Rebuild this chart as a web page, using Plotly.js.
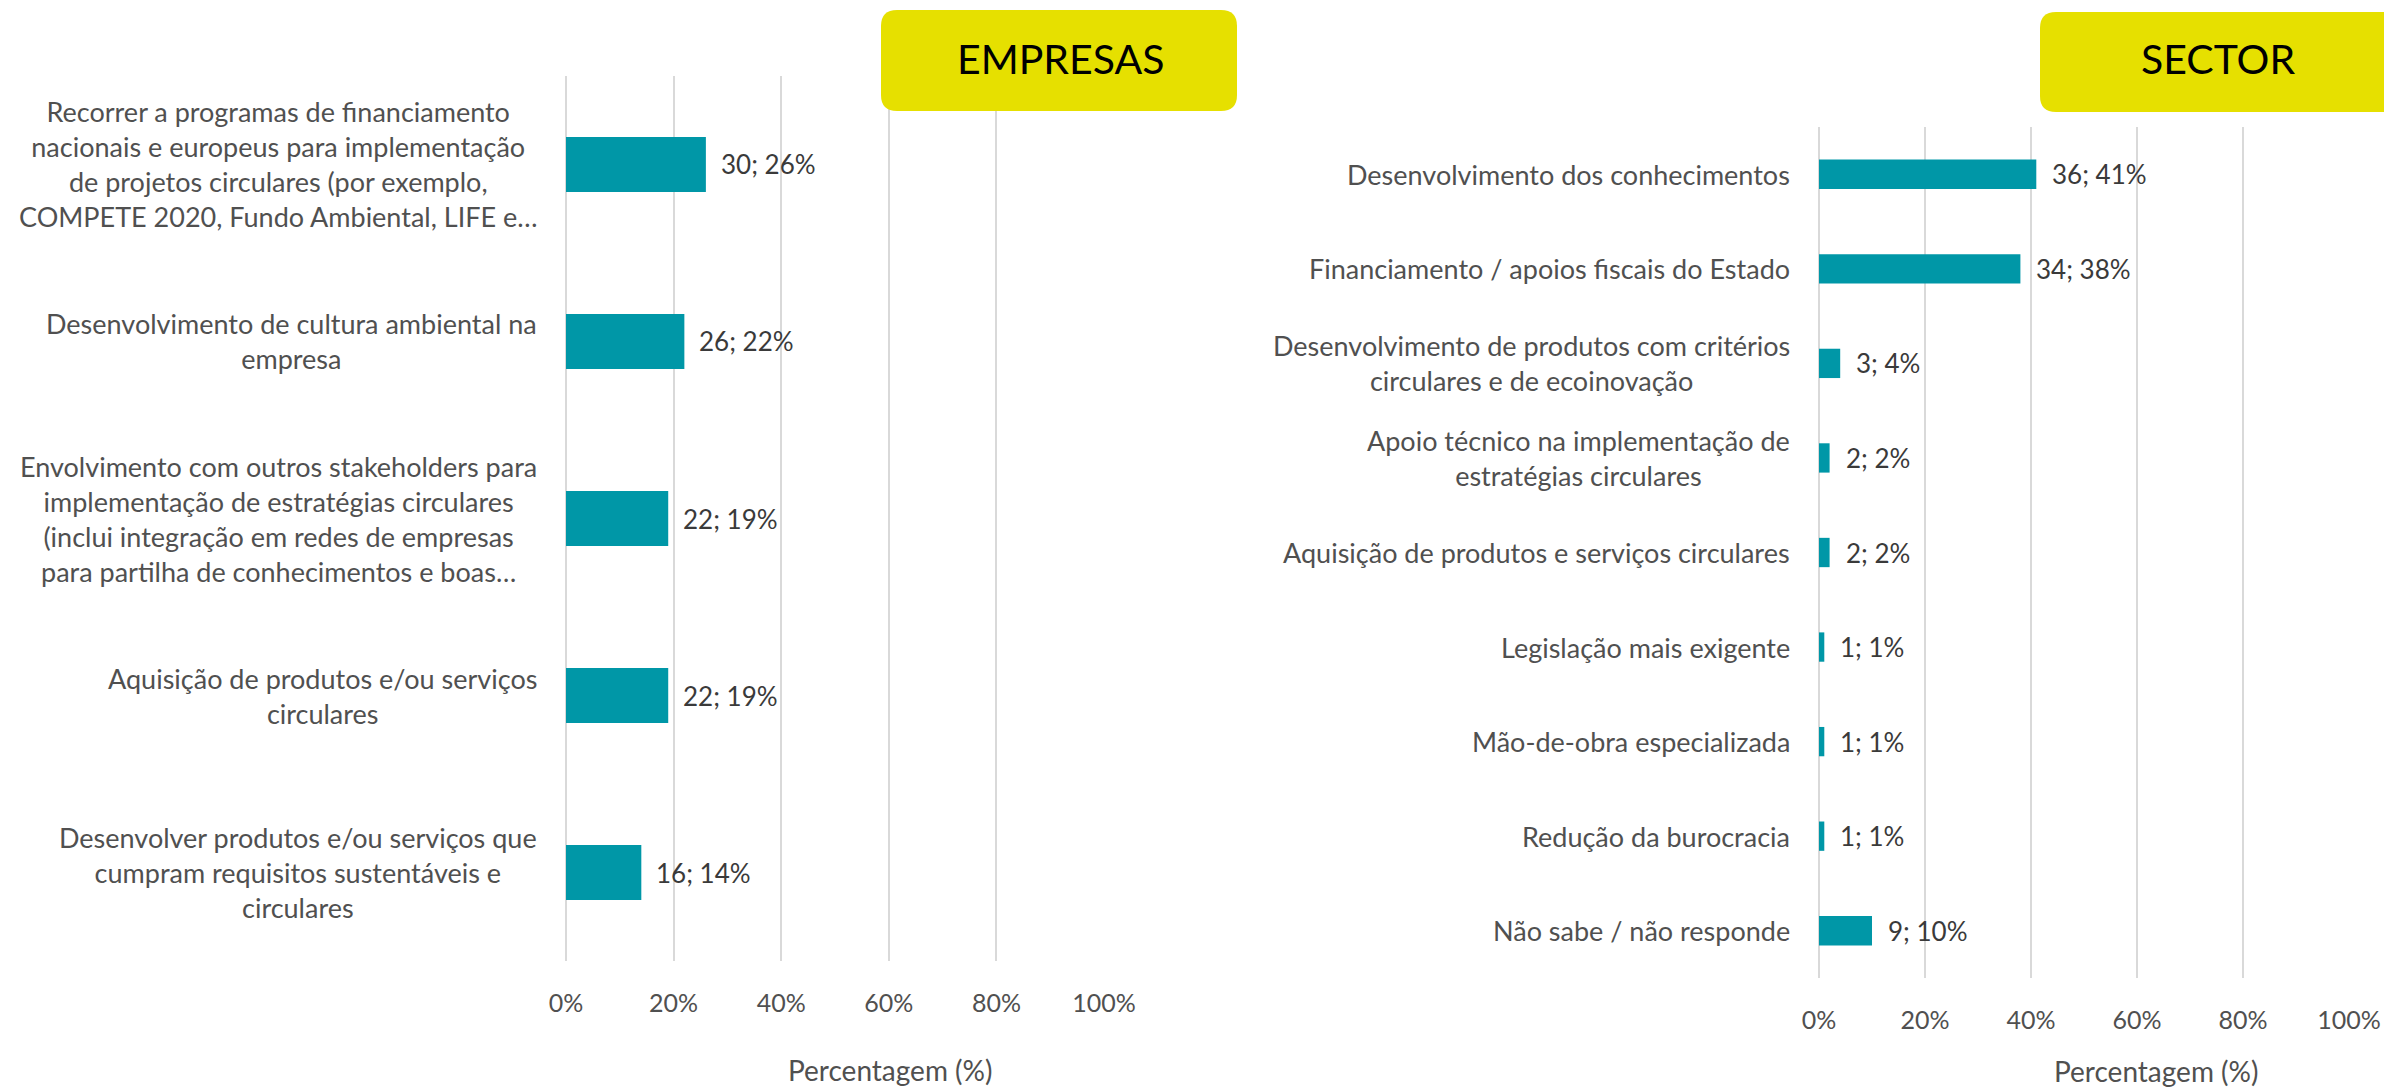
<!DOCTYPE html>
<html>
<head>
<meta charset="utf-8">
<script src="https://cdn.plot.ly/plotly-3.0.1.min.js"></script>
<style>html,body{margin:0;padding:0;background:#fff;}#chart{width:2384px;height:1089px;}</style>
</head>
<body>
<div id="chart"></div>
<script>
// ---- Data ----
const empresasCategories = [
  "Recorrer a programas de financiamento<br>nacionais e europeus para implementação<br>de projetos circulares (por exemplo,<br>COMPETE 2020, Fundo Ambiental, LIFE e…",
  "Desenvolvimento de cultura ambiental na<br>empresa",
  "Envolvimento com outros stakeholders para<br>implementação de estratégias circulares<br>(inclui integração em redes de empresas<br>para partilha de conhecimentos e boas…",
  "Aquisição de produtos e/ou serviços<br>circulares",
  "Desenvolver produtos e/ou serviços que<br>cumpram requisitos sustentáveis e<br>circulares"
];
const empresasCounts = [30, 26, 22, 22, 16];
const empresasPct = [26, 22, 19, 19, 14];

const sectorCategories = [
  "Desenvolvimento dos conhecimentos",
  "Financiamento / apoios fiscais do Estado",
  "Desenvolvimento de produtos com critérios<br>circulares e de ecoinovação",
  "Apoio técnico na implementação de<br>estratégias circulares",
  "Aquisição de produtos e serviços circulares",
  "Legislação mais exigente",
  "Mão-de-obra especializada",
  "Redução da burocracia",
  "Não sabe / não responde"
];
const sectorCounts = [36, 34, 3, 2, 2, 1, 1, 1, 9];
const sectorPct = [41, 38, 4, 2, 2, 1, 1, 1, 10];

const tickValues = [0, 20, 40, 60, 80, 100];
const tickLabels = ["0%", "20%", "40%", "60%", "80%", "100%"];
const panelTitles = ["EMPRESAS", "SECTOR"];
const axisTitle = "Percentagem (%)";

// ---- Style ----
const W = 2384, H = 1089;
const FONT = "Lato, 'Open Sans', sans-serif";
const BAR = "#0097A7";
const GRID = "#D9D9D9";
const TXT = "#505050";
const LBL = "#3a3a3a";
const px = x => x / W;
const py = y => 1 - y / H;

function roundRectPath(x0, y0, x1, y1, r) {
  const P = (x, y) => px(x) + "," + py(y);
  return "M" + P(x0 + r, y0) + " L" + P(x1 - r, y0) + " Q" + P(x1, y0) + " " + P(x1, y0 + r) +
    " L" + P(x1, y1 - r) + " Q" + P(x1, y1) + " " + P(x1 - r, y1) +
    " L" + P(x0 + r, y1) + " Q" + P(x0, y1) + " " + P(x0, y1 - r) +
    " L" + P(x0, y0 + r) + " Q" + P(x0, y0) + " " + P(x0 + r, y0) + " Z";
}

const traces = [
  {type: "bar", orientation: "h", x: empresasPct, y: empresasCategories,
   xaxis: "x", yaxis: "y", marker: {color: BAR}, hoverinfo: "skip", width: 0.31},
  {type: "bar", orientation: "h", x: sectorPct, y: sectorCategories,
   xaxis: "x2", yaxis: "y2", marker: {color: BAR}, hoverinfo: "skip", width: 0.31}
];

const xaxisCommon = {
  range: [0, 100], tickvals: tickValues, ticktext: tickLabels,
  showgrid: true, gridcolor: GRID, gridwidth: 2,
  zeroline: true, zerolinecolor: GRID, zerolinewidth: 2,
  showline: false, ticks: "", ticklabelstandoff: 25,
  tickfont: {family: FONT, size: 25, color: TXT}, fixedrange: true
};
const yaxisCommon = {
  type: "category", autorange: "reversed", showticklabels: false,
  showgrid: false, zeroline: false, showline: false, ticks: "", fixedrange: true
};

const annotations = [];
empresasCategories.forEach((c, i) => {
  annotations.push({xref: "paper", yref: "y", x: px(539), y: c, xanchor: "right", yanchor: "middle",
    align: "center", showarrow: false, text: c, font: {family: FONT, size: 27, color: TXT}});
  annotations.push({xref: "x", yref: "y", x: empresasPct[i], y: c, xanchor: "left", yanchor: "middle",
    xshift: 13, showarrow: false, text: empresasCounts[i] + "; " + empresasPct[i] + "%",
    font: {family: FONT, size: 26, color: LBL}});
});
sectorCategories.forEach((c, i) => {
  annotations.push({xref: "paper", yref: "y2", x: px(1792), y: c, xanchor: "right", yanchor: "middle",
    align: "center", showarrow: false, text: c, font: {family: FONT, size: 27, color: TXT}});
  annotations.push({xref: "x2", yref: "y2", x: sectorPct[i], y: c, xanchor: "left", yanchor: "middle",
    xshift: 14, showarrow: false, text: sectorCounts[i] + "; " + sectorPct[i] + "%",
    font: {family: FONT, size: 26, color: LBL}});
});
// panel titles
annotations.push({xref: "paper", yref: "paper", x: px(1060), y: py(58), xanchor: "center", yanchor: "middle",
  showarrow: false, text: panelTitles[0], font: {family: FONT, size: 41, color: "#000"}});
annotations.push({xref: "paper", yref: "paper", x: px(2218), y: py(58), xanchor: "center", yanchor: "middle",
  showarrow: false, text: panelTitles[1], font: {family: FONT, size: 41, color: "#000"}});
// axis titles
annotations.push({xref: "paper", yref: "paper", x: px(890), y: py(1070), xanchor: "center", yanchor: "middle",
  showarrow: false, text: axisTitle, font: {family: FONT, size: 28, color: TXT}});
annotations.push({xref: "paper", yref: "paper", x: px(2156), y: py(1071), xanchor: "center", yanchor: "middle",
  showarrow: false, text: axisTitle, font: {family: FONT, size: 28, color: TXT}});

const shapes = [
  {type: "path", xref: "paper", yref: "paper", path: roundRectPath(881, 10, 1237, 111, 16),
   fillcolor: "#E6E000", line: {width: 0}, layer: "above"},
  {type: "path", xref: "paper", yref: "paper", path: roundRectPath(2040, 12, 2420, 112, 16),
   fillcolor: "#E6E000", line: {width: 0}, layer: "above"}
];

const layout = {
  width: W, height: H,
  margin: {l: 0, r: 0, t: 0, b: 0},
  paper_bgcolor: "#fff", plot_bgcolor: "rgba(0,0,0,0)",
  showlegend: false, bargap: 0.69,
  xaxis: Object.assign({}, xaxisCommon, {domain: [px(566), px(1104)], anchor: "y"}),
  yaxis: Object.assign({}, yaxisCommon, {domain: [py(961), py(76)], anchor: "x"}),
  xaxis2: Object.assign({}, xaxisCommon, {domain: [px(1819), px(2349)], anchor: "y2"}),
  yaxis2: Object.assign({}, yaxisCommon, {domain: [py(978), py(127)], anchor: "x2"}),
  annotations: annotations, shapes: shapes
};

Plotly.newPlot("chart", traces, layout, {staticPlot: true, displayModeBar: false});
</script>
</body>
</html>
